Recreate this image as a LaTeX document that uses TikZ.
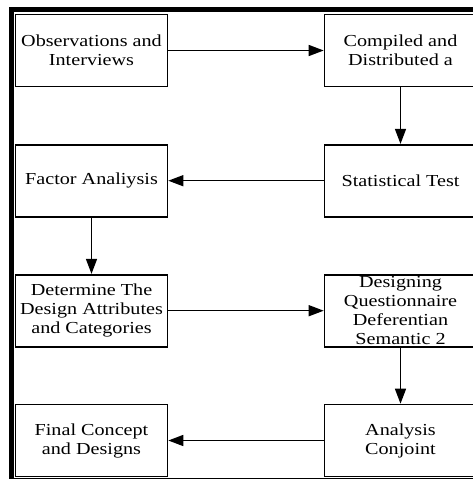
\documentclass[tikz,border=0pt]{standalone}
\usepackage{fontspec}
\setmainfont{Liberation Serif}[FakeStretch=1.2]
\usetikzlibrary{arrows.meta}
\begin{document}
\begin{tikzpicture}[x=1pt,y=-1pt,
  box/.style={draw,line width=1.6pt,minimum width=152pt,minimum height=72pt,inner sep=0pt,align=center,font=\fontsize{16.8}{19}\selectfont},
  conn/.style={line width=1.4pt,-{Triangle[length=15pt,width=11pt]}}]
\useasboundingbox (0,0) rectangle (473,479);
% frame
\draw[line width=5pt] (9,9.5) -- (480,9.5);
\draw[line width=5pt] (11.5,7) -- (11.5,479);
\draw[line width=1.5pt] (9,478.3) -- (480,478.3);
% nodes
\node[box] (obs) at (91.5,50.5) {Observations and\\Interviews};
\node[box] (comp) at (400.5,50.5) {Compiled and\\Distributed a};
\node[box] (fact) at (91.5,180.7) {Factor Analiysis};
\node[box] (stat) at (400.5,180.7) {Statistical Test};
\node[box] (det) at (91.5,310.7) {Determine The\\Design Attributes\\and Categories};
\node[box] (des) at (400.5,310.7) {Designing\\Questionnaire\\Deferentian\\Semantic 2};
\node[box] (fin) at (91.5,440.5) {Final Concept\\and Designs};
\node[box] (ana) at (400.5,440.5) {Analysis\\Conjoint};
% connectors
\draw[conn] (obs) -- (comp);
\draw[conn] (comp) -- (stat);
\draw[conn] (stat) -- (fact);
\draw[conn] (fact) -- (det);
\draw[conn] (det) -- (des);
\draw[conn] (des) -- (ana);
\draw[conn] (ana) -- (fin);
\end{tikzpicture}
\end{document}
